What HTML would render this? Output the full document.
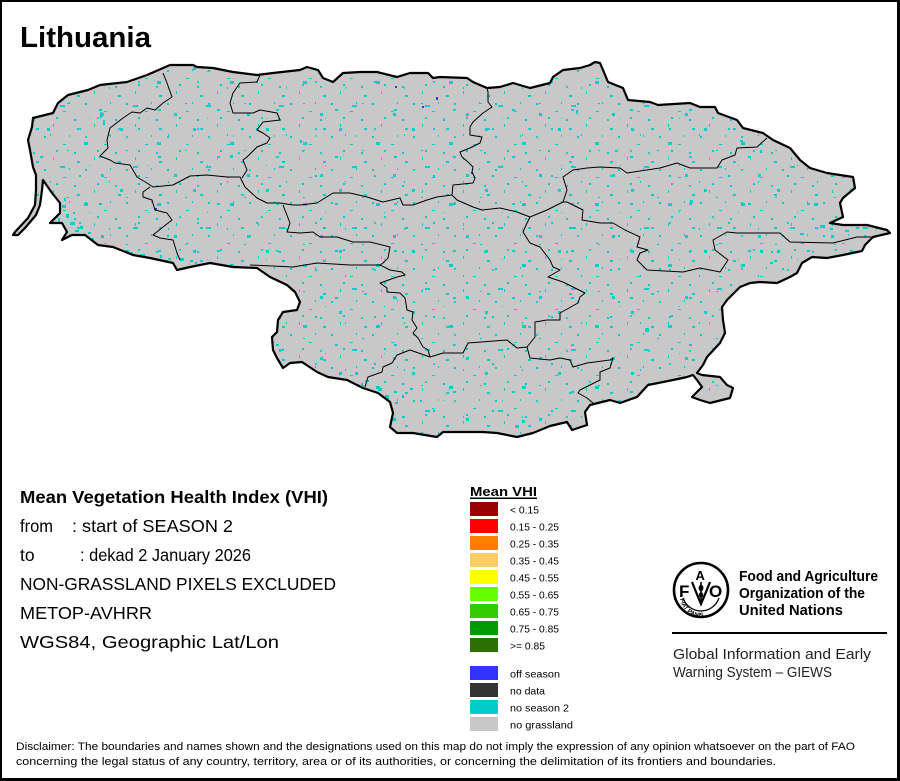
<!DOCTYPE html>
<html>
<head>
<meta charset="utf-8">
<style>
html,body{margin:0;padding:0;background:#fff;}
svg{display:block;}
</style>
</head>
<body>
<svg width="900" height="781" viewBox="0 0 900 781" xmlns="http://www.w3.org/2000/svg" font-family="'Liberation Sans', Arial, sans-serif">
<defs>
  <pattern id="p1" x="0" y="0" width="41" height="33" patternUnits="userSpaceOnUse">
    <g fill="#00cccc">
      <rect x="3" y="4" width="2" height="2"/>
      <rect x="22" y="12" width="3" height="1"/>
      <rect x="12" y="25" width="1" height="3"/>
      <rect x="33" y="20" width="2" height="2"/>
      <rect x="28" y="3" width="1" height="2"/>
      <rect x="15" y="18" width="2" height="2"/>
      <rect x="36" y="29" width="3" height="2"/>
    </g>
  </pattern>
  <pattern id="p2" x="0" y="0" width="59" height="47" patternUnits="userSpaceOnUse">
    <g fill="#00cccc">
      <rect x="8" y="9" width="2" height="1"/>
      <rect x="40" y="15" width="3" height="2"/>
      <rect x="20" y="34" width="2" height="2"/>
      <rect x="50" y="40" width="1" height="2"/>
      <rect x="30" y="24" width="1" height="1"/>
    </g>
  </pattern>
  <pattern id="p3" x="0" y="0" width="73" height="61" patternUnits="userSpaceOnUse">
    <g fill="#00cccc">
      <rect x="11" y="20" width="4" height="3"/>
      <rect x="47" y="6" width="3" height="3"/>
      <rect x="60" y="44" width="5" height="2"/>
      <rect x="28" y="52" width="3" height="3"/>
    </g>
  </pattern>
  <path id="country" d="M170,65 L193,65 197,67 213,68 233,72 257,75 273,73 300,70 307,67 318,70 323,78 333,82 343,73 360,72 377,72 397,77 410,73 428,73 433,78 440,77 467,78 473,82 487,88 500,87 513,83 530,88 550,83 553,77 563,70 580,68 590,65 595,62 600,63 603,70 608,82 623,88 628,100 650,102 658,105 690,103 700,107 715,107 718,113 737,120 743,128 763,133 773,140 790,148 800,160 810,168 827,173 853,177 855,188 843,198 840,203 843,217 830,223 843,225 867,225 887,230 890,233 873,237 865,245 862,251 843,255 827,258 812,257 802,263 797,273 790,277 777,283 760,282 750,283 740,287 727,300 722,307 723,320 725,333 720,343 707,357 703,365 697,373 702,375 720,377 727,385 733,388 730,398 710,403 700,400 692,397 702,387 697,380 693,375 687,377 673,380 648,385 637,397 620,403 610,400 590,405 585,412 587,425 572,430 567,422 550,426 533,433 517,437 497,433 483,432 463,432 443,432 437,437 413,433 397,433 390,427 393,413 390,402 378,393 363,388 347,380 328,377 317,372 302,362 290,363 283,368 277,358 273,350 272,337 277,332 278,320 283,312 297,310 300,302 295,292 287,285 270,277 257,268 233,267 210,263 190,267 177,270 173,263 150,258 133,255 113,247 98,245 85,235 72,235 62,240 67,232 62,223 50,223 60,213 60,203 52,193 43,180 42,190 40,205 36,215 25,228 18,235 13,235 15,232 28,218 35,205 36,190 36,175 33,167 30,150 28,140 32,127 33,118 53,113 58,103 68,95 88,90 100,85 127,82 147,75 Z"/>
  <clipPath id="cclip"><use href="#country"/></clipPath>
  <path id="fiat" d="M680,596 A21,21 0 0 0 722,596"/>
</defs>

<!-- map -->
<use href="#country" fill="#c8c8c8"/>
<use href="#country" fill="url(#p1)"/>
<use href="#country" fill="url(#p2)"/>
<use href="#country" fill="url(#p3)"/>
<g clip-path="url(#cclip)">
  <g fill="#00cccc">
    <rect x="62" y="205" width="4" height="3"/><rect x="66" y="214" width="3" height="4"/>
    <rect x="70" y="222" width="5" height="3"/><rect x="75" y="230" width="4" height="2"/>
    <rect x="80" y="226" width="3" height="3"/><rect x="58" y="218" width="2" height="4"/>
    <rect x="88" y="232" width="3" height="2"/><rect x="92" y="238" width="2" height="2"/>
    <rect x="64" y="198" width="2" height="3"/><rect x="73" y="212" width="2" height="2"/>
    <rect x="125" y="250" width="4" height="2"/><rect x="130" y="252" width="3" height="3"/>
    <rect x="140" y="254" width="5" height="2"/><rect x="150" y="257" width="3" height="2"/>
    <rect x="160" y="255" width="2" height="3"/><rect x="168" y="258" width="3" height="2"/>
    <rect x="180" y="258" width="4" height="3"/><rect x="190" y="260" width="3" height="2"/>
    <rect x="195" y="262" width="2" height="2"/>
    <rect x="355" y="372" width="3" height="3"/><rect x="365" y="380" width="4" height="2"/>
    <rect x="378" y="388" width="3" height="3"/><rect x="385" y="395" width="4" height="4"/>
    <rect x="395" y="402" width="3" height="2"/><rect x="402" y="395" width="2" height="3"/>
    <rect x="410" y="388" width="3" height="2"/><rect x="420" y="400" width="2" height="2"/>
    <rect x="515" y="425" width="4" height="3"/><rect x="522" y="420" width="3" height="3"/>
    <rect x="820" y="225" width="5" height="3"/><rect x="830" y="228" width="3" height="2"/>
    <rect x="800" y="233" width="4" height="2"/><rect x="760" y="250" width="3" height="3"/>
    <rect x="770" y="262" width="3" height="2"/><rect x="845" y="230" width="4" height="2"/>
    <rect x="100" y="112" width="2" height="6"/><rect x="103" y="120" width="2" height="5"/>
    <rect x="645" y="328" width="4" height="4"/><rect x="690" y="200" width="3" height="3"/>
    <rect x="576" y="110" width="2" height="4"/><rect x="615" y="150" width="3" height="2"/>
    <rect x="230" y="155" width="3" height="3"/><rect x="300" y="140" width="2" height="3"/>
    <rect x="740" y="140" width="3" height="2"/><rect x="760" y="150" width="2" height="3"/>
  </g>
  <g fill="#3333ff">
    <rect x="395" y="86" width="2" height="2"/><rect x="436" y="97" width="2" height="3"/>
    <rect x="422" y="106" width="2" height="2"/><rect x="155" y="208" width="2" height="3"/>
    <rect x="471" y="172" width="2" height="2"/>
  </g>
</g>

<!-- internal boundaries -->
<g fill="none" stroke="#000" stroke-width="1" stroke-linejoin="round">
  <polyline points="163,73 167,83 172,97 163,103 155,110 147,108 140,113 132,112 123,118 110,128 107,140 108,148 100,156 110,160 115,163 130,165 137,177 147,183 153,187 173,185 190,176 207,175 227,177 240,177 245,187 257,198 267,203 280,203 293,205 300,205 317,203 333,193 350,193 367,197 383,202 400,198 403,205 413,205 427,200 437,197 452,195 457,200 473,207 482,210 500,208 517,212 530,217 547,210 563,202 567,190 563,177 573,170 587,168 600,167 620,168 627,173 660,168 677,163 690,168 717,168 722,160 735,155 737,148 757,147 767,138"/>
  <polyline points="260,75 257,82 240,83 233,93 230,103 233,113 253,113 260,110 277,113 280,120 263,122 257,130 263,133 270,138 267,143 257,147 247,157 243,160 247,170 242,178"/>
  <polyline points="487,88 488,92 488,102 492,107 483,113 473,122 470,127 470,135 482,137 480,143 470,148 460,152 462,157 468,162 473,167 472,172 475,178 473,183 453,185 452,195"/>
  <polyline points="150,187 143,192 143,197 152,200 155,210 167,213 172,220 163,227 153,235 160,238 173,240 177,253 180,260"/>
  <polyline points="283,205 290,223 287,232 300,233 313,232 320,237 337,237 353,242 370,242 390,247 388,258 383,263 380,265"/>
  <polyline points="250,265 293,267 317,263 350,265 380,265 390,270 402,272 405,275 397,277 383,282 380,283 387,288 387,292 400,293 405,298 407,310 413,312 412,320 417,328 413,333 418,338 423,347 428,350 430,357 410,350 397,355 392,363 383,367 382,372 368,377 365,387"/>
  <polyline points="430,357 443,353 463,353 468,343 507,340 517,348 527,347 530,358 550,360 560,358 570,360 573,367 587,363 610,360 613,358 610,368 600,372 600,380 580,390 578,393 587,398 593,403"/>
  <polyline points="530,217 527,223 523,232 530,243 540,247 550,260 553,267 560,270 548,277 563,282 585,293 580,297 578,303 560,313 560,320 547,320 535,322 535,337 527,347"/>
  <polyline points="563,202 567,202 583,210 582,220 600,223 613,223 625,230 640,237 637,247 648,250 640,253 637,260 647,270 683,272 700,268 720,272 728,260 715,250 713,240 727,232 737,233 750,233 780,233 790,242 833,243 857,237 873,237"/>
</g>
<use href="#country" fill="none" stroke="#000" stroke-width="2.2" stroke-linejoin="round"/>

<!-- title -->
<text x="20" y="47" font-size="29" font-weight="bold" textLength="131" lengthAdjust="spacingAndGlyphs">Lithuania</text>

<!-- left info block -->
<g fill="#000">
  <text x="20" y="503" font-size="17.5" font-weight="bold" textLength="308" lengthAdjust="spacingAndGlyphs">Mean Vegetation Health Index (VHI)</text>
  <text x="20" y="532" font-size="17.5" textLength="33" lengthAdjust="spacingAndGlyphs">from</text>
  <text x="72" y="532" font-size="17.5" textLength="161" lengthAdjust="spacingAndGlyphs">: start of SEASON 2</text>
  <text x="20" y="561" font-size="17.5">to</text>
  <text x="80" y="561" font-size="17.5" textLength="171" lengthAdjust="spacingAndGlyphs">: dekad 2 January 2026</text>
  <text x="20" y="590" font-size="17.5" textLength="316" lengthAdjust="spacingAndGlyphs">NON-GRASSLAND PIXELS EXCLUDED</text>
  <text x="20" y="619" font-size="17.5" textLength="132" lengthAdjust="spacingAndGlyphs">METOP-AVHRR</text>
  <text x="20" y="648" font-size="17.5" textLength="259" lengthAdjust="spacingAndGlyphs">WGS84, Geographic Lat/Lon</text>
</g>

<!-- legend -->
<text x="470" y="496" font-size="13" font-weight="bold" textLength="67" lengthAdjust="spacingAndGlyphs">Mean VHI</text>
<rect x="470" y="497.5" width="67" height="1.5" fill="#000"/>
<g>
  <rect x="470" y="502" width="28" height="14" fill="#990000"/>
  <rect x="470" y="519" width="28" height="14" fill="#ff0000"/>
  <rect x="470" y="536" width="28" height="14" fill="#ff8000"/>
  <rect x="470" y="553" width="28" height="14" fill="#ffcc66"/>
  <rect x="470" y="570" width="28" height="14" fill="#ffff00"/>
  <rect x="470" y="587" width="28" height="14" fill="#66ff00"/>
  <rect x="470" y="604" width="28" height="14" fill="#33cc00"/>
  <rect x="470" y="621" width="28" height="14" fill="#009900"/>
  <rect x="470" y="638" width="28" height="14" fill="#2a7000"/>
  <rect x="470" y="666" width="28" height="14" fill="#3333ff"/>
  <rect x="470" y="683" width="28" height="14" fill="#333333"/>
  <rect x="470" y="700" width="28" height="14" fill="#00cccc"/>
  <rect x="470" y="717" width="28" height="14" fill="#c8c8c8"/>
</g>
<g font-size="10.5" fill="#000">
  <text x="510" y="513.5" textLength="29" lengthAdjust="spacingAndGlyphs">&lt; 0.15</text>
  <text x="510" y="530.5" textLength="49" lengthAdjust="spacingAndGlyphs">0.15 - 0.25</text>
  <text x="510" y="547.5" textLength="49" lengthAdjust="spacingAndGlyphs">0.25 - 0.35</text>
  <text x="510" y="564.5" textLength="49" lengthAdjust="spacingAndGlyphs">0.35 - 0.45</text>
  <text x="510" y="581.5" textLength="49" lengthAdjust="spacingAndGlyphs">0.45 - 0.55</text>
  <text x="510" y="598.5" textLength="49" lengthAdjust="spacingAndGlyphs">0.55 - 0.65</text>
  <text x="510" y="615.5" textLength="49" lengthAdjust="spacingAndGlyphs">0.65 - 0.75</text>
  <text x="510" y="632.5" textLength="49" lengthAdjust="spacingAndGlyphs">0.75 - 0.85</text>
  <text x="510" y="649.5" textLength="35" lengthAdjust="spacingAndGlyphs">&gt;= 0.85</text>
  <text x="510" y="677.5" textLength="50" lengthAdjust="spacingAndGlyphs">off season</text>
  <text x="510" y="694.5" textLength="35" lengthAdjust="spacingAndGlyphs">no data</text>
  <text x="510" y="711.5" textLength="59" lengthAdjust="spacingAndGlyphs">no season 2</text>
  <text x="510" y="728.5" textLength="63" lengthAdjust="spacingAndGlyphs">no grassland</text>
</g>

<!-- FAO logo -->
<g>
  <circle cx="701" cy="590" r="27" fill="none" stroke="#000" stroke-width="2.6"/>
  <path d="M683,598 A19,19 0 0 0 719,598" fill="none" stroke="#000" stroke-width="1.3"/>
  <text x="679" y="597" font-size="17" font-weight="bold" fill="#000">F</text>
  <text x="695.5" y="580" font-size="13" font-weight="bold" fill="#000">A</text>
  <text x="709" y="597" font-size="17" font-weight="bold" fill="#000">O</text>
  <path d="M692,582 Q698,597 701,604 Q704,597 710,582" fill="none" stroke="#000" stroke-width="2.2"/>
  <line x1="701" y1="582" x2="701" y2="605" stroke="#000" stroke-width="1.6"/>
  <ellipse cx="701" cy="588" rx="2.4" ry="3.2" fill="#000"/>
  <ellipse cx="701" cy="595" rx="2.2" ry="2.8" fill="#000"/>
  <text font-size="6" font-weight="bold" fill="#000"><textPath href="#fiat" startOffset="3">FIAT    PANIS</textPath></text>
</g>
<g fill="#000">
  <text x="739" y="581" font-size="15" font-weight="bold" textLength="139" lengthAdjust="spacingAndGlyphs">Food and Agriculture</text>
  <text x="739" y="598" font-size="15" font-weight="bold" textLength="126" lengthAdjust="spacingAndGlyphs">Organization of the</text>
  <text x="739" y="615" font-size="15" font-weight="bold" textLength="104" lengthAdjust="spacingAndGlyphs">United Nations</text>
</g>
<rect x="672" y="632" width="215" height="2" fill="#000"/>
<g fill="#222">
  <text x="673" y="659" font-size="14.5" textLength="198" lengthAdjust="spacingAndGlyphs">Global Information and Early</text>
  <text x="673" y="677" font-size="14.5" textLength="159" lengthAdjust="spacingAndGlyphs">Warning System – GIEWS</text>
</g>

<!-- disclaimer -->
<g font-size="11" fill="#000">
  <text x="16" y="750" textLength="839" lengthAdjust="spacingAndGlyphs">Disclaimer: The boundaries and names shown and the designations used on this map do not imply the expression of any opinion whatsoever on the part of FAO</text>
  <text x="16" y="765" textLength="760" lengthAdjust="spacingAndGlyphs">concerning the legal status of any country, territory, area or of its authorities, or concerning the delimitation of its frontiers and boundaries.</text>
</g>

<!-- frame -->
<rect x="0" y="0" width="900" height="2" fill="#000"/>
<rect x="0" y="0" width="2" height="781" fill="#000"/>
<rect x="897" y="0" width="3" height="781" fill="#000"/>
<rect x="0" y="778" width="900" height="3" fill="#000"/>
</svg>
</body>
</html>
